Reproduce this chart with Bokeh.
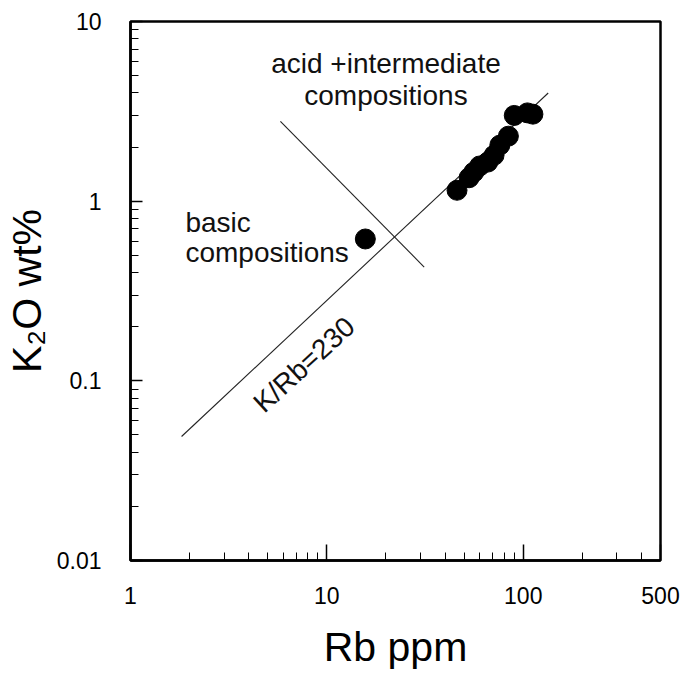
from bokeh.plotting import figure
from bokeh.models import FixedTicker, Range1d
from bokeh.core.properties import value
from bokeh.embed import file_html
from bokeh.resources import INLINE

# ---- data ----
rb_ppm = [15.7, 46, 53, 56, 60, 66, 71, 76, 84, 90, 105, 112]
k2o_wt = [0.616, 1.15, 1.35, 1.45, 1.57, 1.65, 1.80, 2.05, 2.30, 3.00, 3.10, 3.05]

# K/Rb = 230 reference line (end points)
krb_x = [1.82, 134.0]
krb_y = [0.049, 4.0]

# divider between basic and acid+intermediate fields
div_x = [5.8, 31.3]
div_y = [2.78, 0.43]

# tick values / labels
x_major = [1, 10, 100, 500]
x_major_labels = ["1", "10", "100", "500"]
x_minor = [2, 3, 4, 5, 6, 7, 8, 9, 20, 30, 40, 50, 60, 70, 80, 90, 200, 300, 400]
y_major = [0.01, 0.1, 1, 10]
y_major_labels = ["0.01", "0.1", "1", "10"]
y_minor = [0.02, 0.03, 0.04, 0.05, 0.06, 0.07, 0.08, 0.09,
           0.2, 0.3, 0.4, 0.5, 0.6, 0.7, 0.8, 0.9,
           2, 3, 4, 5, 6, 7, 8, 9]

# annotation texts
center_texts = ["acid +intermediate", "compositions"]
center_x = [20.0, 20.0]
center_y = [5.85, 3.85]
left_texts = ["basic", "compositions"]
left_x = [1.904, 1.904]
left_y = [0.765, 0.52]
rot_text = ["K/Rb=230"]
rot_x = [4.45]
rot_y = [0.0715]

FONT = "Liberation Sans"

p = figure(width=683, height=680, x_axis_type="log", y_axis_type="log",
           x_range=Range1d(1, 500), y_range=Range1d(0.01, 10),
           output_backend="svg", toolbar_location=None,
           min_border_left=119, min_border_right=23,
           min_border_top=21, min_border_bottom=120)

p.grid.visible = False
p.background_fill_color = "white"
p.border_fill_color = "white"
p.outline_line_color = "black"
p.outline_line_width = 2.5

# x axis
xa = p.xaxis[0]
xa.ticker = FixedTicker(ticks=x_major, minor_ticks=x_minor)
xa.major_label_overrides = {t: l for t, l in zip(x_major, x_major_labels)}
xa.axis_line_width = 2.5
xa.axis_line_color = "black"
xa.major_tick_in = 16
xa.major_tick_out = 0
xa.major_tick_line_width = 1.5
xa.minor_tick_in = 8
xa.minor_tick_out = 0
xa.minor_tick_line_width = 1
xa.major_label_standoff = 26
xa.major_label_text_font = FONT
xa.major_label_text_font_size = "23px"
xa.major_label_text_color = "black"
xa.axis_label = "Rb ppm"
xa.axis_label_text_font = FONT
xa.axis_label_text_font_size = "41px"
xa.axis_label_text_font_style = "normal"
xa.axis_label_text_color = "black"
xa.axis_label_standoff = 17

# y axis
ya = p.yaxis[0]
ya.ticker = FixedTicker(ticks=y_major, minor_ticks=y_minor)
ya.major_label_overrides = {t: l for t, l in zip(y_major, y_major_labels)}
ya.axis_line_width = 2.5
ya.axis_line_color = "black"
ya.major_tick_in = 12
ya.major_tick_out = 0
ya.major_tick_line_width = 1.5
ya.minor_tick_in = 8
ya.minor_tick_out = 0
ya.minor_tick_line_width = 1
ya.major_label_standoff = 29
ya.major_label_text_font = FONT
ya.major_label_text_font_size = "23px"
ya.major_label_text_color = "black"
ya.axis_label = "K\u2082O wt%"
ya.axis_label_text_font = FONT
ya.axis_label_text_font_size = "41px"
ya.axis_label_text_font_style = "normal"
ya.axis_label_text_color = "black"
ya.axis_label_standoff = 4

# lines
p.line(krb_x, krb_y, line_color="#222222", line_width=1.1)
p.line(div_x, div_y, line_color="#222222", line_width=1.1)

# points
p.scatter(rb_ppm, k2o_wt, size=20, marker="circle",
          fill_color="black", line_color="black")

# texts
p.text(center_x, center_y, text=center_texts, text_align="center",
       text_baseline="alphabetic", text_font=value(FONT),
       text_font_size="28px", text_color="#111111")
p.text(left_x, left_y, text=left_texts, text_align="left",
       text_baseline="alphabetic", text_font=value(FONT),
       text_font_size="28px", text_color="#111111")
p.text(rot_x, rot_y, text=rot_text, angle=0.742, text_align="left",
       text_baseline="alphabetic", text_font=value(FONT),
       text_font_size="28px", text_color="#111111")

open("out.html", "w").write(file_html(p, INLINE))
